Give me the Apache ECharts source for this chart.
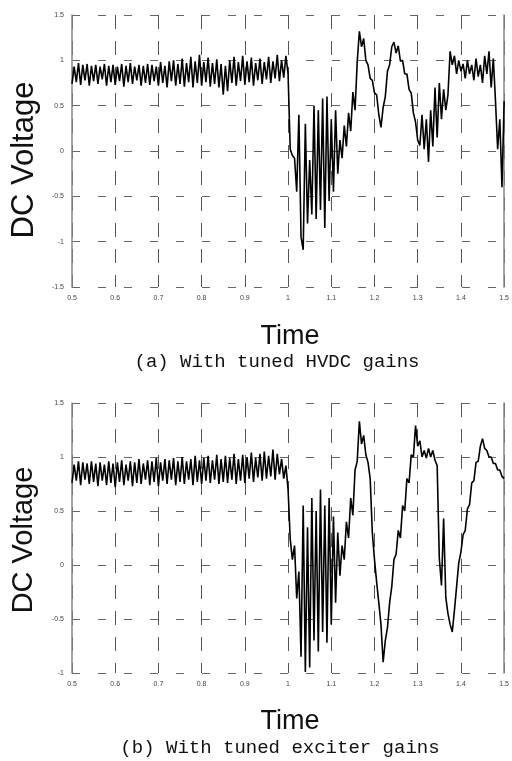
<!DOCTYPE html>
<html>
<head>
<meta charset="utf-8">
<script src="https://cdn.jsdelivr.net/npm/echarts@6/dist/echarts.min.js"></script>
<style>
html,body{margin:0;padding:0;background:#fff;}
#chart{width:512px;height:761px;}
</style>
</head>
<body>
<div id="chart"></div>
<script>
// ---- data ----
const startTime = 0.5;      // s
const sampleStep = 0.005;   // s between samples
const xTickLabels = ['0.5','0.6','0.7','0.8','0.9','1','1.1','1.2','1.3','1.4','1.5'];
const yTickLabelsA = ['-1.5','-1','-0.5','0','0.5','1','1.5'];
const yTickLabelsB = ['-1','-0.5','0','0.5','1','1.5'];
const yLabel = 'DC Voltage';
const xLabel = 'Time';
const captionA = '(a) With tuned HVDC gains';
const captionB = '(b) With tuned exciter gains';

// (a) pre-fault, t = 0.500 ... 0.995
const preFaultA = [
 0.74,0.93,0.76,0.97,0.73,0.95,0.78,0.96,0.72,0.94,
 0.77,0.95,0.74,0.93,0.79,0.96,0.72,0.94,0.76,0.95,
 0.73,0.93,0.77,0.96,0.71,0.94,0.76,0.97,0.74,0.93,
 0.78,0.95,0.72,0.94,0.75,0.96,0.73,0.95,0.77,0.93,
 0.72,0.98,0.75,0.94,0.70,0.99,0.77,1.00,0.72,0.96,
 0.74,1.02,0.71,0.97,0.76,1.04,0.70,0.99,0.75,1.06,
 0.72,0.98,0.76,1.03,0.71,0.97,0.74,1.01,0.70,0.96,
 0.62,0.94,0.66,1.00,0.75,1.04,0.72,0.98,0.77,1.05,
 0.73,0.99,0.76,1.03,0.72,0.97,0.78,1.02,0.74,0.98,
 0.79,1.04,0.75,0.99,0.80,1.06,0.77,1.00,0.81,1.05
];
// (a) post-fault, t = 1.000 ... 1.500
const postFaultA = [
 0.85,0.02,-0.05,-0.08,-0.45,0.40,-0.95,-1.09,0.30,-0.80,
 -0.10,-0.70,0.50,-0.75,0.45,-0.65,0.58,-0.85,0.60,-0.55,
 0.35,-0.45,0.45,-0.25,0.12,-0.08,0.28,0.05,0.42,0.22,
 0.65,0.45,0.98,1.32,1.15,1.24,1.00,0.95,0.80,0.78,
 0.64,0.62,0.40,0.26,0.48,0.60,0.88,0.95,1.15,1.20,
 1.08,1.16,0.99,1.00,0.85,0.85,0.68,0.64,0.42,0.32,
 0.12,0.06,0.40,0.02,0.35,-0.12,0.45,0.05,0.70,0.15,
 0.75,0.35,0.68,0.45,0.62,1.10,0.95,1.05,0.85,1.00,
 0.88,0.96,0.80,1.00,0.85,0.95,0.78,1.02,0.82,0.95,
 0.75,1.05,0.85,1.10,0.70,1.02,0.55,0.02,0.35,-0.40,
 0.55
];
// (b) pre-fault, t = 0.500 ... 0.995
const preFaultB = [
 0.76,0.93,0.78,0.96,0.74,0.95,0.79,0.94,0.75,0.96,
 0.77,0.94,0.73,0.95,0.78,0.93,0.74,0.96,0.76,0.94,
 0.72,0.95,0.77,0.97,0.74,0.93,0.78,0.96,0.73,0.95,
 0.76,0.98,0.75,0.94,0.79,0.97,0.74,0.96,0.77,0.99,
 0.73,0.95,0.78,0.98,0.75,0.97,0.79,0.99,0.74,0.96,
 0.77,1.00,0.75,0.96,0.79,0.98,0.74,1.01,0.77,0.97,
 0.75,0.99,0.78,1.01,0.76,0.97,0.79,1.02,0.75,0.98,
 0.77,1.01,0.76,0.99,0.79,1.03,0.75,0.98,0.78,1.02,
 0.76,1.00,0.80,1.04,0.77,0.99,0.81,1.03,0.78,1.05,
 0.80,1.01,0.82,1.07,0.79,1.03,0.84,0.98,0.80,0.92
];
// (b) post-fault, t = 1.000 ... 1.500
const postFaultB = [
 0.70,0.24,0.05,0.18,-0.31,-0.06,-0.85,0.55,-0.99,0.35,
 -0.95,0.62,-0.70,0.50,-0.80,0.70,-0.62,0.55,-0.72,0.62,
 -0.55,0.45,-0.35,0.30,-0.10,0.18,0.05,0.40,0.25,0.62,
 0.46,0.88,0.96,1.33,1.12,1.20,1.02,0.95,0.80,0.30,
 0.05,-0.16,-0.35,-0.55,-0.90,-0.70,-0.58,-0.35,-0.20,0.05,
 0.10,0.32,0.25,0.55,0.50,0.80,0.76,1.02,1.00,1.29,
 1.10,1.15,1.00,1.06,0.99,1.08,1.00,1.06,0.97,0.92,
 0.06,-0.19,0.43,-0.30,-0.45,-0.55,-0.62,-0.42,-0.20,0.02,
 0.12,0.28,0.32,0.52,0.56,0.76,0.78,0.95,0.96,1.10,
 1.17,1.08,1.06,1.00,1.00,0.94,0.94,0.88,0.88,0.82,
 0.80
];

// ---- build series from samples ----
function toPairs(values){
  return values.map((v,i)=>[+(startTime + i*sampleStep).toFixed(3), v]);
}
const seriesA = toPairs(preFaultA.concat(postFaultA));
const seriesB = toPairs(preFaultB.concat(postFaultB));

const tickFont = {fontSize:7, color:'#444', fontFamily:'Liberation Sans'};
function xAxisCfg(gridIndex){
  return {
    type:'value', gridIndex, min:0.5, max:1.5, interval:0.1,
    axisLine:{show:false}, axisTick:{show:false},
    axisLabel:Object.assign({margin:8, formatter:v=>xTickLabels[Math.round((v-0.5)/0.1)]}, tickFont),
    splitLine:{show:true, lineStyle:{color:'#555', width:1, type:[14,12]}}
  };
}
function yAxisCfg(gridIndex,min,labels){
  return {
    type:'value', gridIndex, min, max:1.5, interval:0.5,
    axisLine:{show:true, lineStyle:{color:'#888', width:1.5}}, axisTick:{show:false},
    axisLabel:Object.assign({margin:8, formatter:v=>labels[Math.round((v-min)/0.5)]}, tickFont),
    splitLine:{show:true, lineStyle:{color:'#666', width:1, type:[8,18]}}
  };
}
function rightAxisCfg(gridIndex,min){
  return {
    type:'value', gridIndex, min, max:1.5, position:'right',
    axisLine:{show:true, lineStyle:{color:'#888', width:1.5}},
    axisTick:{show:false}, axisLabel:{show:false}, splitLine:{show:false}
  };
}

const chart = echarts.init(document.getElementById('chart'), null, {renderer:'canvas'});
chart.setOption({
  animation:false,
  backgroundColor:'#fff',
  grid:[
    {left:72, top:15, width:436, height:272},
    {left:72, top:403, width:436, height:270}
  ],
  xAxis:[xAxisCfg(0), xAxisCfg(1)],
  yAxis:[yAxisCfg(0,-1.5,yTickLabelsA), yAxisCfg(1,-1,yTickLabelsB), rightAxisCfg(0,-1.5), rightAxisCfg(1,-1)],
  series:[
    {type:'line', xAxisIndex:0, yAxisIndex:0, data:seriesA, showSymbol:false, symbol:'none',
     lineStyle:{color:'#000', width:1.6}},
    {type:'line', xAxisIndex:1, yAxisIndex:1, data:seriesB, showSymbol:false, symbol:'none',
     lineStyle:{color:'#000', width:1.6}}
  ],
  graphic:[
    {type:'text', x:24, y:160, rotation:Math.PI/2, style:{text:yLabel, font:'31px "Liberation Sans"', fill:'#111', textAlign:'center', textVerticalAlign:'middle'}},
    {type:'text', x:24, y:540, rotation:Math.PI/2, style:{text:yLabel, font:'29px "Liberation Sans"', fill:'#111', textAlign:'center', textVerticalAlign:'middle'}},
    {type:'text', x:290, y:337, style:{text:xLabel, font:'27px "Liberation Sans"', fill:'#111', textAlign:'center', textVerticalAlign:'middle'}},
    {type:'text', x:290, y:722, style:{text:xLabel, font:'27px "Liberation Sans"', fill:'#111', textAlign:'center', textVerticalAlign:'middle'}},
    {type:'text', x:277, y:362, style:{text:captionA, font:'19px "Liberation Mono"', fill:'#111', textAlign:'center', textVerticalAlign:'middle'}},
    {type:'text', x:280, y:748, style:{text:captionB, font:'19px "Liberation Mono"', fill:'#111', textAlign:'center', textVerticalAlign:'middle'}}
  ]
});
</script>
</body>
</html>
